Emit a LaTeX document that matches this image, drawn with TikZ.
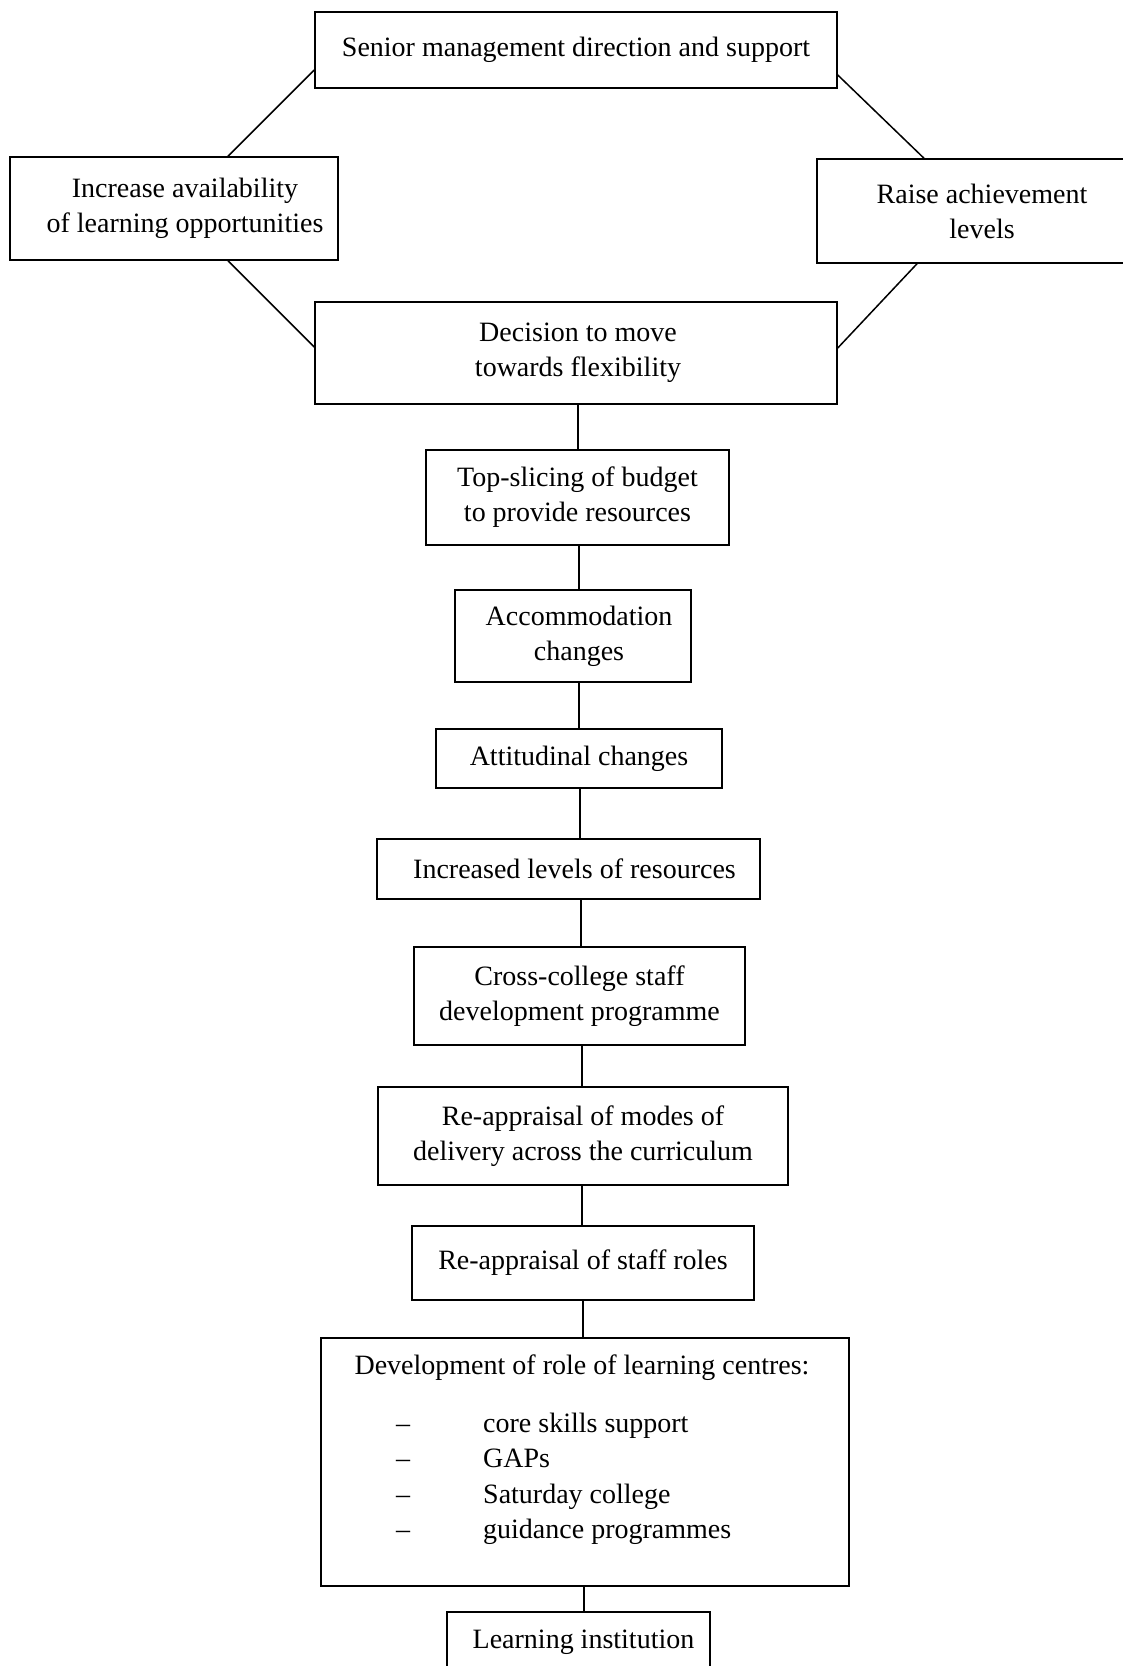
\documentclass[tikz,border=0pt]{standalone}
\usepackage{fontspec}
\setmainfont{Liberation Serif}
\begin{document}
\begin{tikzpicture}[x=1pt,y=-1pt,
  box/.style={draw, line width=1.5pt, inner sep=0pt, align=center,
    font=\fontsize{28}{35}\selectfont},
  txt/.style={inner sep=0pt, font=\fontsize{28}{35}\selectfont},
  link/.style={line width=1.5pt}]
\useasboundingbox (0,0) rectangle (1123,1666);
\clip (0,0) rectangle (1123,1666);
% top hexagon
\node[box, minimum width=522pt, minimum height=76pt] (senior) at (576,50) {Senior management direction and support};
\node[box, minimum width=328pt, minimum height=103pt] (increase) at (174,208.5) {\hspace*{22pt}Increase availability\\\hspace*{22pt}of learning opportunities};
\node[box, minimum width=330pt, minimum height=104pt] (raise) at (982,211) {Raise achievement\\levels};
\node[box, minimum width=522pt, minimum height=102pt] (decision) at (576,353) {\hspace*{4pt}Decision to move\\\hspace*{4pt}towards flexibility};
% chain
\node[box, minimum width=303pt, minimum height=95pt] (topslice) at (577.5,497.5) {Top-slicing of budget\\to provide resources};
\node[box, minimum width=236pt, minimum height=92pt] (accom) at (573,636) {\hspace*{12pt}Accommodation\\\hspace*{12pt}changes};
\node[box, minimum width=286pt, minimum height=59pt] (attit) at (579,758.5) {Attitudinal changes};
\node[box, minimum width=383pt, minimum height=60pt] (incres) at (568.5,869) {\hspace*{12pt}Increased levels of resources};
\node[box, minimum width=331pt, minimum height=98pt] (cross) at (579.5,996) {Cross-college staff\\development programme};
\node[box, minimum width=410pt, minimum height=98pt] (modes) at (583,1136) {Re-appraisal of modes of\\delivery across the curriculum};
\node[box, minimum width=342pt, minimum height=74pt] (roles) at (583,1263) {Re-appraisal of staff roles};
\node[box, minimum width=528pt, minimum height=248pt] (dev) at (585,1462) {};
\node[txt, anchor=base] (devtitle) at (582,1374) {Development of role of learning centres:};
\node[txt, anchor=base west] (d1) at (396,1432) {–};
\node[txt, anchor=base west] (i1) at (483,1432) {core skills support};
\node[txt, anchor=base west] (d2) at (396,1467) {–};
\node[txt, anchor=base west] (i2) at (483,1467) {GAPs};
\node[txt, anchor=base west] (d3) at (396,1503) {–};
\node[txt, anchor=base west] (i3) at (483,1503) {Saturday college};
\node[txt, anchor=base west] (d4) at (396,1538) {–};
\node[txt, anchor=base west] (i4) at (483,1538) {guidance programmes};
\node[box, minimum width=263pt, minimum height=60pt] (learn) at (578.5,1642) {\hspace*{10pt}Learning institution};
% hexagon links
\draw[link] ([yshift=-20pt]senior.west) -- ([xshift=54pt]increase.north);
\draw[link] ([yshift=-25pt]senior.east) -- ([xshift=-58pt]raise.north);
\draw[link] ([xshift=54pt]increase.south) -- ([yshift=6pt]decision.west);
\draw[link] ([xshift=-65pt]raise.south) -- ([yshift=5pt]decision.east);
% spine links
\draw[link] (decision.south -| 578,0) -- (topslice.north -| 578,0);
\draw[link] (topslice.south -| 579,0) -- (accom.north -| 579,0);
\draw[link] (accom.south -| 579,0) -- (attit.north -| 579,0);
\draw[link] (attit.south -| 580,0) -- (incres.north -| 580,0);
\draw[link] (incres.south -| 581,0) -- (cross.north -| 581,0);
\draw[link] (cross.south -| 582,0) -- (modes.north -| 582,0);
\draw[link] (modes.south -| 582,0) -- (roles.north -| 582,0);
\draw[link] (roles.south -| 583,0) -- (dev.north -| 583,0);
\draw[link] (dev.south -| 584,0) -- (learn.north -| 584,0);
\end{tikzpicture}
\end{document}
